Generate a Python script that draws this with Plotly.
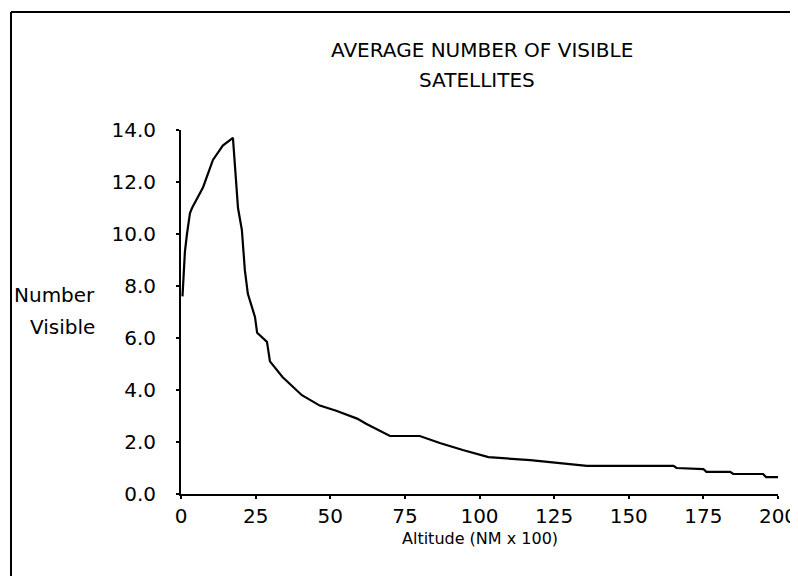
import plotly.graph_objects as go

# Data
altitude = [0.5, 1.3, 2, 3, 3.7, 5, 7.4, 10.7, 14, 17.4, 18.4, 19.1, 20.4, 20.8, 21.4,
            22.4, 24.8, 25.5, 28.8, 29.8, 34, 40.5, 46.5, 52, 59, 62, 70, 80, 86.7,
            94.4, 103, 117, 126, 136, 165, 166, 175, 176, 184, 185, 195, 196, 200]
visible = [7.6, 9.3, 10.0, 10.8, 11.0, 11.3, 11.8, 12.85, 13.4, 13.7, 12.3, 11.0, 10.15,
           9.65, 8.6, 7.7, 6.8, 6.2, 5.85, 5.1, 4.5, 3.8, 3.4, 3.2, 2.9, 2.7, 2.23, 2.23,
           1.96, 1.69, 1.42, 1.3, 1.19, 1.08, 1.08, 1.0, 0.96, 0.85, 0.85, 0.77, 0.77,
           0.65, 0.65]

x_ticks = [0, 25, 50, 75, 100, 125, 150, 175, 200]
y_ticks = [0, 2, 4, 6, 8, 10, 12, 14]
y_tick_labels = ["0.0", "2.0", "4.0", "6.0", "8.0", "10.0", "12.0", "14.0"]

title_lines = ["AVERAGE NUMBER OF VISIBLE", "SATELLITES"]
y_title_lines = ["Number", "Visible"]
x_title = "Altitude (NM x 100)"

FONT = "DejaVu Sans"
OFF = 8  # page body margin offset
W, H = 798 - OFF, 576 - OFF
# target pixel positions in the 798x576 window
AX_L, AX_R, AX_T, AX_B = 181, 778, 130, 494
ML, MR, MT, MB = AX_L - OFF, 798 - AX_R, AX_T - OFF, 576 - AX_B
PW, PH = AX_R - AX_L, AX_B - AX_T


def px(xp):
    return (xp - AX_L) / PW


def py(yp):
    return (AX_B - yp) / PH


fig = go.Figure()
fig.add_trace(go.Scatter(x=altitude, y=visible, mode="lines",
                         line=dict(color="black", width=2.2), showlegend=False))

fig.update_layout(
    width=W, height=H,
    margin=dict(l=ML, r=MR, t=MT, b=MB, autoexpand=False),
    paper_bgcolor="white", plot_bgcolor="white",
    font=dict(family=FONT, color="black", size=20),
    xaxis=dict(range=[0, 200], tickvals=x_ticks, showgrid=False, zeroline=False,
               showline=True, linecolor="black", linewidth=2,
               ticks="outside", ticklen=3, tickwidth=2, tickcolor="black",
               ticklabelstandoff=0, tickfont=dict(size=20), automargin=False),
    yaxis=dict(range=[0, 14], tickvals=y_ticks, ticktext=y_tick_labels,
               showgrid=False, zeroline=False,
               showline=True, linecolor="black", linewidth=2,
               ticks="outside", ticklen=3, tickwidth=2, tickcolor="black",
               ticklabelstandoff=16, tickfont=dict(size=20), automargin=False),
)

# Outer frame (top and left edges visible)
fig.add_shape(type="line", xref="paper", yref="paper",
              x0=px(11), x1=px(810), y0=py(12), y1=py(12),
              line=dict(color="black", width=2))
fig.add_shape(type="line", xref="paper", yref="paper",
              x0=px(11), x1=px(11), y0=py(12), y1=py(590),
              line=dict(color="black", width=2))

ann = []
ann.append(dict(text=title_lines[0], x=px(482), y=py(50), xanchor="center", yanchor="middle", size=20))
ann.append(dict(text=title_lines[1], x=px(477), y=py(80), xanchor="center", yanchor="middle", size=20))
ann.append(dict(text=y_title_lines[0], x=px(97), y=py(295), xanchor="right", yanchor="middle", size=20))
ann.append(dict(text=y_title_lines[1], x=px(97), y=py(327), xanchor="right", yanchor="middle", size=20))
ann.append(dict(text=x_title, x=px(480), y=py(538), xanchor="center", yanchor="middle", size=16))
for a in ann:
    s = a.pop("size")
    a.update(xref="paper", yref="paper", showarrow=False,
             font=dict(family=FONT, size=s, color="black"))
    fig.add_annotation(**a)

fig.write_html("out.html")
